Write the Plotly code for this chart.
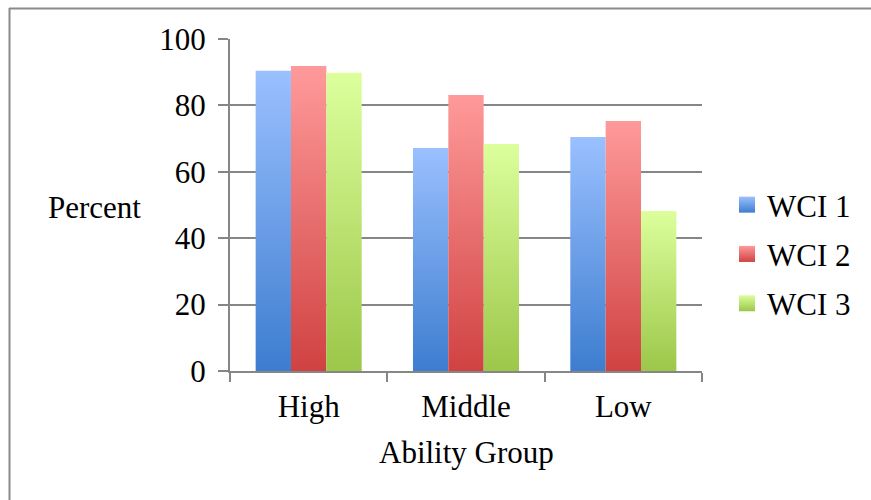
import plotly.graph_objects as go

# Data
groups = ["High", "Middle", "Low"]
series = ["WCI 1", "WCI 2", "WCI 3"]
wci1 = [90.4, 67.2, 70.5]
wci2 = [91.9, 83.1, 75.3]
wci3 = [89.8, 68.4, 48.2]
y_ticks = [0, 20, 40, 60, 80, 100]

# Canvas and plot-area geometry (pixels)
W, H = 871, 500
ML, MR, MT, MB = 230, 169, 39, 129
PW = W - ML - MR
PH = H - MT - MB

FONT = "Liberation Serif, Times New Roman, serif"
AXIS = "#868686"
light = ["#9AC0FF", "#FF9A9A", "#DCFF9C"]
dark = ["#3D7DCF", "#D04242", "#9CC749"]

group_width = 0.674
bar_w = group_width / 3

fig = go.Figure()

# Bars: one filled polygon per bar so every bar carries its own vertical gradient
for s, (name, vals) in enumerate(zip(series, [wci1, wci2, wci3])):
    for i, v in enumerate(vals):
        x0 = i - group_width / 2 + s * bar_w
        x1 = x0 + bar_w
        fig.add_trace(go.Scatter(
            x=[x0, x1, x1, x0, x0], y=[0, 0, v, v, 0],
            mode="lines", line=dict(width=0),
            fill="toself", fillcolor=light[s],
            fillgradient=dict(type="vertical",
                              colorscale=[[0, dark[s]], [1, light[s]]]),
            name=name, legendgroup=name, showlegend=False,
            hovertemplate=f"{groups[i]}<br>{name}: {v}<extra></extra>",
        ))

# Legend entries: marker colour sits at the top, gradient colour at the bottom
for s, name in enumerate(series):
    fig.add_trace(go.Scatter(
        x=[None], y=[None], mode="markers", name=name, legendgroup=name,
        marker=dict(symbol="square", size=17, color=light[s],
                    gradient=dict(type="vertical", color=dark[s]),
                    line=dict(width=0)),
    ))

def px_x(px):
    return (px - ML) / PW

def px_y(py):
    return (H - MB - py) / PH

fig.update_layout(
    width=W, height=H,
    margin=dict(l=ML, r=MR, t=MT, b=MB, pad=0),
    paper_bgcolor="white", plot_bgcolor="white",
    font=dict(family=FONT, size=31, color="black"),
    showlegend=True,
    legend=dict(x=px_x(727), y=px_y(254), xanchor="left", yanchor="middle",
                font=dict(family=FONT, size=31), tracegroupgap=6,
                bgcolor="rgba(0,0,0,0)"),
    xaxis=dict(range=[-0.5, 2.5], tickvals=[-0.5, 0.5, 1.5, 2.5],
               showticklabels=False, ticks="outside", ticklen=9, tickwidth=1.5,
               tickcolor=AXIS, showline=True, linecolor=AXIS, linewidth=2,
               showgrid=False, zeroline=False, fixedrange=True),
    xaxis2=dict(overlaying="x", anchor="y", side="bottom",
                range=[-0.5, 2.5], tickvals=[0, 1, 2], ticktext=groups,
                ticks="", showline=False, showgrid=False, zeroline=False,
                ticklabelstandoff=14, tickfont=dict(family=FONT, size=31),
                fixedrange=True),
    yaxis=dict(range=[0, 100], tickvals=y_ticks, ticks="outside", ticklen=10,
               tickwidth=1.5, tickcolor=AXIS, showline=True, linecolor=AXIS,
               linewidth=2, showgrid=True, gridcolor=AXIS, gridwidth=1.5,
               zeroline=False, ticklabelstandoff=6,
               tickfont=dict(family=FONT, size=31), fixedrange=True),
    annotations=[
        dict(text="Percent", xref="paper", yref="paper", x=px_x(143),
             y=px_y(207), xanchor="right", yanchor="middle", showarrow=False,
             font=dict(family=FONT, size=31)),
        dict(text="Ability Group", xref="paper", yref="paper", x=px_x(466),
             y=px_y(452), xanchor="center", yanchor="middle", showarrow=False,
             font=dict(family=FONT, size=31)),
    ],
    shapes=[
        dict(type="line", xref="paper", yref="paper", x0=px_x(9.5), x1=px_x(9.5),
             y0=px_y(8), y1=px_y(H), line=dict(color="#8A8A8A", width=2)),
        dict(type="line", xref="paper", yref="paper", x0=px_x(9), x1=px_x(W),
             y0=px_y(8.5), y1=px_y(8.5), line=dict(color="#8A8A8A", width=2)),
    ],
)

# Attach a dummy trace to the label axis so it is rendered
fig.add_trace(go.Scatter(x=[None], y=[None], xaxis="x2", showlegend=False,
                         hoverinfo="skip"))

fig.write_html("out.html")
